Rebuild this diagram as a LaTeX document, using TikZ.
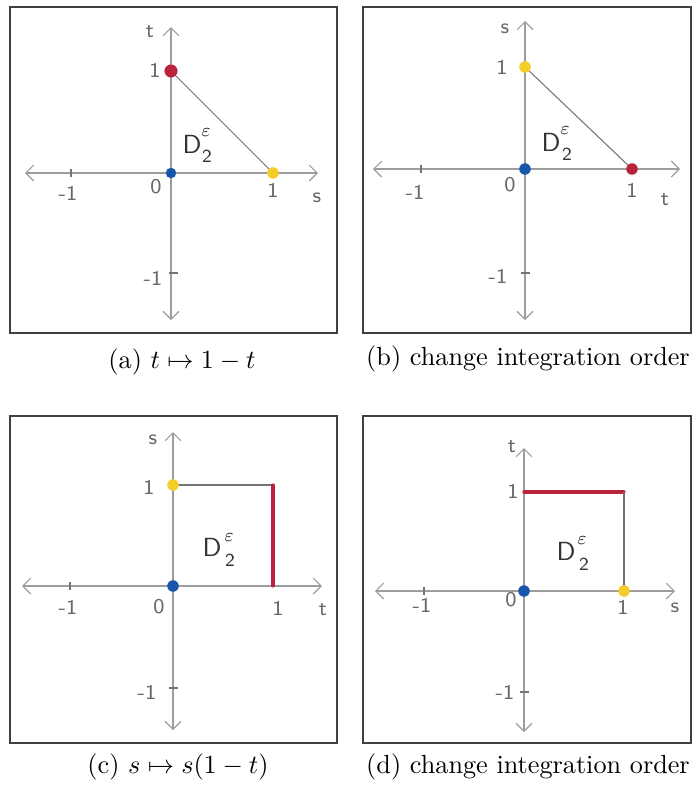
\documentclass[tikz,border=0pt]{standalone}
\usetikzlibrary{arrows.meta}
\definecolor{dotred}{RGB}{185,35,60}
\definecolor{dotyellow}{RGB}{245,205,40}
\definecolor{dotblue}{RGB}{25,85,170}
\definecolor{pencil}{RGB}{115,115,115}
\tikzset{
 frame/.style={draw=black!75, line width=0.6pt},
 axis/.style={draw=pencil!70, line width=0.45pt, {Straight Barb[length=3pt,width=6pt]}-{Straight Barb[length=3pt,width=6pt]}},
 hand/.style={text=pencil!90!black, font=\sffamily\footnotesize, inner sep=0pt},
 dbig/.style={text=black!80, font=\sffamily\normalsize, inner sep=0pt},
 dsmall/.style={text=black!80, font=\sffamily\scriptsize, inner sep=0pt},
 dot/.style={circle, fill=#1, inner sep=0pt, minimum size=4.4pt},
 edgeline/.style={draw=pencil, line width=0.4pt},
 redline/.style={draw=dotred, line width=1.2pt, line cap=round},
 caption/.style={font=\normalsize, inner sep=0pt},
 tickmark/.style={draw=pencil, line width=0.45pt}
}
\begin{document}
\begin{tikzpicture}[x=0.3815pt, y=-0.3815pt]
\useasboundingbox (0,0) rectangle (699,791);

% ---------------- panel (a)
\draw[frame] (10,7) rectangle (337,333);
\coordinate (aL) at (25,173); \coordinate (aR) at (318,173);
\coordinate (aT) at (171,27); \coordinate (aB) at (171,320);
\draw[axis] (aL) -- (aR);
\draw[axis] (aB) -- (aT);
\draw[tickmark] (71,169) -- (71,177);
\draw[tickmark] (169,273) -- (178,273);
\coordinate (aO) at (171,173); \coordinate (aP1) at (171,71); \coordinate (aP2) at (273,173);
\draw[edgeline] (aP1) -- (aP2);
\node[dot=dotred, minimum size=5pt] (aRed) at (aP1) {};
\node[dot=dotblue, minimum size=4pt] (aBlue) at (aO) {};
\node[dot=dotyellow] (aYel) at (aP2) {};
\node[hand] (aLt) at (150,32) {t};
\node[hand] (aL1) at (155,70) {1};
\node[dbig] (aD) at (192,144) {D};
\node[dsmall] (aDe) at (206,133) {$\varepsilon$};
\node[dsmall] (aD2) at (207,156) {2};
\node[hand] (aL0) at (156,187) {0};
\node[hand] (aLm1) at (68,193) {-1};
\node[hand] (aLx1) at (273,190) {1};
\node[hand] (aLs) at (317,198) {s};
\node[hand] (aLym1) at (153,278) {-1};
\node[caption] (capa) at (182,362) {(a) $t\mapsto 1-t$};

% ---------------- panel (b)
\draw[frame] (363,7) rectangle (691,333);
\coordinate (bL) at (373,169); \coordinate (bR) at (680,169);
\coordinate (bT) at (525,21); \coordinate (bB) at (525,320);
\draw[axis] (bL) -- (bR);
\draw[axis] (bB) -- (bT);
\draw[tickmark] (421,165) -- (421,173);
\draw[tickmark] (521,273) -- (530,273);
\coordinate (bO) at (525,169); \coordinate (bP1) at (525,67); \coordinate (bP2) at (632,169);
\draw[edgeline] (bP1) -- (bP2);
\node[dot=dotyellow] (bYel) at (bP1) {};
\node[dot=dotblue] (bBlue) at (bO) {};
\node[dot=dotred] (bRed) at (bP2) {};
\node[hand] (bLs) at (505,29) {s};
\node[hand] (bL1) at (502,67) {1};
\node[dbig] (bD) at (551,142) {D};
\node[dsmall] (bDe) at (565,131) {$\varepsilon$};
\node[dsmall] (bD2) at (567,154) {2};
\node[hand] (bL0) at (510,185) {0};
\node[hand] (bLm1) at (415,192) {-1};
\node[hand] (bLx1) at (632,190) {1};
\node[hand] (bLt) at (665,200) {t};
\node[hand] (bLym1) at (498,276) {-1};
\node[caption] (capb) at (528,359) {(b) change integration order};

% ---------------- panel (c)
\draw[frame] (10,416) rectangle (337,743);
\coordinate (cL) at (22,586); \coordinate (cR) at (322,586);
\coordinate (cT) at (173,432); \coordinate (cB) at (173,730);
\draw[axis] (cL) -- (cR);
\draw[axis] (cB) -- (cT);
\draw[tickmark] (70,582) -- (70,590);
\draw[tickmark] (169,688) -- (178,688);
\coordinate (cO) at (173,586); \coordinate (cP1) at (173,485);
\coordinate (cC) at (273,485); \coordinate (cX1) at (273,586);
\draw[edgeline] (cP1) -- (cC);
\draw[redline] (cC) -- (cX1);
\node[dot=dotyellow] (cYel) at (cP1) {};
\node[dot=dotblue] (cBlue) at (cO) {};
\node[hand] (cLs) at (153,440) {s};
\node[hand] (cL1) at (149,487) {1};
\node[dbig] (cD) at (212,547) {D};
\node[dsmall] (cDe) at (229,538) {$\varepsilon$};
\node[dsmall] (cD2) at (230,560) {2};
\node[hand] (cL0) at (159,607) {0};
\node[hand] (cLm1) at (68,607) {-1};
\node[hand] (cLx1) at (278,608) {1};
\node[hand] (cLt) at (323,610) {t};
\node[hand] (cLym1) at (147,692) {-1};
\node[caption] (capc) at (178,767) {(c) $s\mapsto s(1-t)$};

% ---------------- panel (d)
\draw[frame] (363,416) rectangle (691,743);
\coordinate (dL) at (375,591); \coordinate (dR) at (675,591);
\coordinate (dT) at (524,448); \coordinate (dB) at (524,732);
\draw[axis] (dL) -- (dR);
\draw[axis] (dB) -- (dT);
\draw[tickmark] (424,587) -- (424,595);
\draw[tickmark] (520,692) -- (529,692);
\coordinate (dO) at (524,591); \coordinate (dP1) at (524,492);
\coordinate (dC) at (624,492); \coordinate (dX1) at (624,591);
\draw[redline] (dP1) -- (dC);
\draw[edgeline] (dC) -- (dX1);
\node[dot=dotyellow] (dYel) at (dX1) {};
\node[dot=dotblue] (dBlue) at (dO) {};
\node[hand] (dLt) at (512,447) {t};
\node[hand] (dL1) at (513,491) {1};
\node[dbig] (dD) at (566,551) {D};
\node[dsmall] (dDe) at (582,541) {$\varepsilon$};
\node[dsmall] (dD2) at (584,564) {2};
\node[hand] (dL0) at (511,600) {0};
\node[hand] (dLm1) at (422,605) {-1};
\node[hand] (dLx1) at (623,607) {1};
\node[hand] (dLs) at (675,608) {s};
\node[hand] (dLym1) at (505,692) {-1};
\node[caption] (capd) at (528,767) {(d) change integration order};
\end{tikzpicture}
\end{document}
